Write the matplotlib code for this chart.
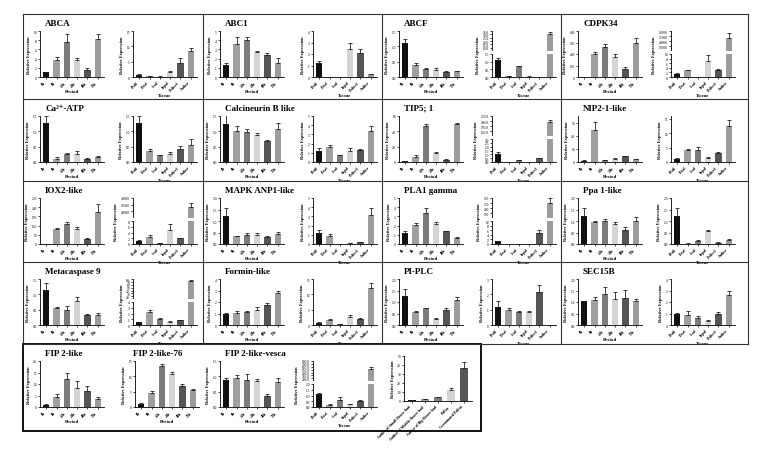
import numpy as np
import matplotlib
matplotlib.use("Agg")
import matplotlib.pyplot as plt
from matplotlib.patches import Rectangle
from matplotlib.lines import Line2D

plt.rcParams['font.family'] = ['Liberation Serif', 'DejaVu Serif']

periods = ["0h", "6h", "12h", "24h", "48h", "72h"]
tissues = ["Pistil", "Petal", "Leaf", "Sepal", "Pedicel", "Anther"]
extra_cats = ["Anther of Small flower bud", "Anther of Middle flower bud",
              "Anther of Big flower bud", "Pollen", "Germinated Pollen"]
colors = ["#111111", "#a0a0a0", "#7c7c7c", "#d4d4d4", "#555555", "#9c9c9c"]

abca_p = [1.0, 3.8, 7.6, 3.6, 1.6, 8.2];  abca_pe = [0.1, 0.6, 1.7, 0.5, 0.3, 1.1]
abca_t = [0.8, 0.2, 0.15, 1.7, 4.7, 8.6]; abca_te = [0.2, 0.1, 0.05, 0.2, 1.6, 0.9]
abc1_p = [1.3, 3.6, 4.05, 2.7, 2.4, 1.55]; abc1_pe = [0.2, 0.7, 0.3, 0.1, 0.2, 0.5]
abc1_t = [1.2, 0.0, 0.0, 2.45, 2.1, 0.25]; abc1_te = [0.2, 0, 0, 0.5, 0.35, 0.05]
abcf_p = [1.1, 0.4, 0.25, 0.22, 0.17, 0.18]; abcf_pe = [0.15, 0.05, 0.05, 0.06, 0.02, 0.02]
abcf_t = [1.1, 0.05, 0.7, 0.03, 0.02, 30]; abcf_te = [0.15, 0.02, 0.05, 0.01, 0.01, 4]
cdpk_p = [0, 200, 265, 175, 70, 300]; cdpk_pe = [0, 15, 20, 25, 15, 35]
cdpk_t = [1.5, 3.0, 0.1, 7, 3, 23000]; cdpk_te = [0.3, 0.2, 0.05, 2.5, 0.4, 5000]
ca_p = [1.28, 0.1, 0.25, 0.27, 0.1, 0.15]; ca_pe = [0.22, 0.05, 0.03, 0.08, 0.02, 0.04]
ca_t = [1.28, 0.35, 0.22, 0.25, 0.42, 0.55]; ca_te = [0.22, 0.08, 0.02, 0.06, 0.1, 0.2]
cal_p = [1.25, 1.02, 0.98, 0.88, 0.68, 1.07]; cal_pe = [0.3, 0.15, 0.1, 0.05, 0.05, 0.2]
cal_t = [1.2, 1.6, 0.75, 1.25, 1.3, 3.35]; cal_te = [0.3, 0.3, 0.05, 0.3, 0.1, 0.6]
tip_p = [1, 7, 47, 12, 3, 50]; tip_pe = [0.3, 2, 2.5, 0.5, 0.4, 1.5]
tip_t = [1.0, 0.05, 0.25, 0.02, 0.55, 190]; tip_te = [0.35, 0.01, 0.03, 0.01, 0.03, 25]
nip_p = [1, 24, 1.3, 2.5, 4.5, 2]; nip_pe = [0.3, 6.5, 0.3, 0.6, 0.4, 0.3]
nip_t = [1.1, 4.2, 4.3, 1.4, 3.1, 12.5]; nip_te = [0.3, 0.4, 0.8, 0.3, 0.5, 2]
iox_p = [0, 80, 107, 80, 27, 175]; iox_pe = [0, 6, 10, 10, 3, 40]
iox_t = [1.2, 2.5, 0.2, 5, 2, 27000]; iox_te = [0.3, 0.5, 0.05, 2, 0.2, 6000]
mapk_p = [1.22, 0.33, 0.38, 0.4, 0.3, 0.43]; mapk_pe = [0.35, 0.03, 0.08, 0.07, 0.03, 0.08]
mapk_t = [1.2, 0.85, 0.02, 0.1, 0.2, 3.2]; mapk_te = [0.3, 0.25, 0.01, 0.03, 0.05, 0.75]
pla_p = [1.2, 2.1, 3.35, 2.15, 1.4, 0.7]; pla_pe = [0.2, 0.15, 0.6, 0.25, 0.05, 0.03]
pla_t = [1.2, 0.05, 0.02, 0.03, 5, 250]; pla_te = [0.3, 0.02, 0.01, 0.01, 1, 50]
ppa_p = [1.2, 0.95, 1.0, 0.88, 0.62, 1.0]; ppa_pe = [0.35, 0.05, 0.1, 0.07, 0.12, 0.17]
ppa_t = [1.2, 0.02, 0.15, 0.57, 0.05, 0.17]; ppa_te = [0.35, 0.01, 0.02, 0.04, 0.02, 0.03]
meta_p = [1.15, 0.55, 0.48, 0.77, 0.32, 0.32]; meta_pe = [0.22, 0.04, 0.14, 0.15, 0.03, 0.07]
meta_t = [0.5, 2.2, 1.1, 0.6, 0.8, 72]; meta_te = [0.1, 0.4, 0.1, 0.05, 0.05, 3]
form_p = [1.0, 1.05, 1.1, 1.3, 1.7, 2.75]; form_pe = [0.05, 0.15, 0.1, 0.3, 0.2, 0.2]
form_t = [0.8, 1.6, 0.3, 2.5, 1.9, 12.2]; form_te = [0.1, 0.3, 0.1, 0.9, 0.4, 1.5]
pip_p = [1.25, 0.55, 0.73, 0.27, 0.65, 1.1]; pip_pe = [0.3, 0.07, 0.02, 0.02, 0.07, 0.13]
pip_t = [1.2, 0.95, 0.83, 0.87, 2.15, 0.0]; pip_te = [0.35, 0.15, 0.07, 0.07, 0.45, 0]
sec_p = [1.03, 1.1, 1.35, 1.15, 1.17, 1.05]; sec_pe = [0.02, 0.13, 0.3, 0.3, 0.35, 0.1]
sec_t = [1.0, 0.9, 0.65, 0.35, 1.0, 2.65]; sec_te = [0.05, 0.35, 0.15, 0.1, 0.15, 0.35]
fip_p = [1, 4.5, 12.3, 8.2, 7, 3.5]; fip_pe = [0.3, 1.2, 2.5, 3, 2, 0.7]
fip76_p = [1, 4.6, 13.5, 10.8, 6.8, 5.6]; fip76_pe = [0.2, 0.7, 0.4, 0.5, 0.6, 0.2]
vesca_p = [0.88, 0.95, 0.88, 0.85, 0.35, 0.8]; vesca_pe = [0.08, 0.08, 0.18, 0.06, 0.06, 0.14]
vesca_t = [1.1, 0.2, 0.65, 0.25, 0.5, 520]; vesca_te = [0.15, 0.03, 0.2, 0.03, 0.1, 80]
extra_v = [0.8, 1.8, 4.0, 12, 37]; extra_e = [0.3, 0.5, 0.5, 2.5, 6.5]

W, H = 764, 460
fig = plt.figure(figsize=(W / 100, H / 100), dpi=100)


def frac(x, y, w, h):
    return [x / W, 1 - (y + h) / H, w / W, h / H]


def bar_panel(x, y, vals, errs, cats, top, ticks, xlabel, brk=None, w=64, h=46):
    ax = fig.add_axes(frac(x, y, w, h))
    xs = np.arange(len(vals))
    if brk is not None:
        a, b, c, lt, ut = brk
        f = lambda v: np.interp(v, [0, a, b, c], [0, 0.5, 0.56, 1.0])
        g = lambda v: np.interp(v, [0, 0.5, 0.56, 1.0], [0, a, b, c])
        ax.set_yscale('function', functions=(f, g))
        ax.set_ylim(0, c)
        ax.set_yticks(list(lt) + list(ut))
    else:
        ax.set_ylim(0, top)
        ax.set_yticks(ticks)
    ax.bar(xs, vals, width=0.62, color=colors[:len(vals)], zorder=2)
    ax.errorbar(xs, vals, yerr=[np.zeros(len(vals)), errs], fmt='none',
                ecolor='#222222', elinewidth=0.6, capsize=1.5, capthick=0.6, zorder=3)
    if brk is not None:
        ax.axhspan(a * 1.02, b, color='white', zorder=4, lw=0)
    ax.set_xlim(-0.6, len(vals) - 0.4)
    ax.set_xticks(xs)
    ax.set_xticklabels(cats, rotation=45, ha='right', fontsize=2.8, fontweight='bold')
    ax.tick_params(axis='y', labelsize=2.6, length=1.2, width=0.5, pad=1)
    ax.tick_params(axis='x', length=1.2, width=0.5, pad=1)
    for s in ['top', 'right']:
        ax.spines[s].set_visible(False)
    for s in ['left', 'bottom']:
        ax.spines[s].set_linewidth(0.6)
    ax.set_ylabel("Relative Expression", fontsize=3.2, fontweight='bold', labelpad=2)
    if xlabel:
        ax.set_xlabel(xlabel, fontsize=3.6, fontweight='bold', labelpad=1)
    return ax


col_x = [23, 203, 382, 561]
row_y = [15, 100, 182, 263, 345]

groups = [
    ("ABCA", 0, 0, abca_p, abca_pe, 10, [0, 2, 4, 6, 8, 10], abca_t, abca_te, 15, [0, 5, 10, 15], None),
    ("ABC1", 1, 0, abc1_p, abc1_pe, 5, range(6), abc1_t, abc1_te, 4, range(5), None),
    ("ABCF", 2, 0, abcf_p, abcf_pe, 1.5, [0, 0.5, 1.0, 1.5], abcf_t, abcf_te, 0, [],
     (1.5, 5, 35, [0, 0.5, 1.0, 1.5], [10, 15, 20, 25, 30, 35])),
    ("CDPK34", 3, 0, cdpk_p, cdpk_pe, 400, [0, 100, 200, 300, 400], cdpk_t, cdpk_te, 0, [],
     (10, 10000, 30000, [0, 2, 4, 6, 8, 10], [15000, 20000, 25000, 30000])),
    ("Ca²⁺-ATP", 0, 1, ca_p, ca_pe, 1.5, [0, 0.5, 1.0, 1.5], ca_t, ca_te, 1.5, [0, 0.5, 1.0, 1.5], None),
    ("Calcineurin B like", 1, 1, cal_p, cal_pe, 1.5, [0, 0.5, 1.0, 1.5], cal_t, cal_te, 5, range(6), None),
    ("TIP5; 1", 2, 1, tip_p, tip_pe, 60, [0, 20, 40, 60], tip_t, tip_te, 0, [],
     (3, 50, 250, [0, 0.5, 1.0, 1.5, 2.0, 2.5, 3.0], [100, 150, 200, 250])),
    ("NIP2-1-like", 3, 1, nip_p, nip_pe, 35, [0, 10, 20, 30], nip_t, nip_te, 16, [0, 5, 10, 15], None),
    ("IOX2-like", 0, 2, iox_p, iox_pe, 250, [0, 50, 100, 150, 200, 250], iox_t, iox_te, 0, [],
     (8, 10000, 40000, [0, 2, 4, 6, 8], [20000, 30000, 40000])),
    ("MAPK ANP1-like", 1, 2, mapk_p, mapk_pe, 2.0, [0, 0.5, 1.0, 1.5, 2.0], mapk_t, mapk_te, 5, range(6), None),
    ("PLA1 gamma", 2, 2, pla_p, pla_pe, 5, range(6), pla_t, pla_te, 0, [],
     (10, 100, 300, [0, 2, 4, 6, 8, 10], [150, 200, 250, 300])),
    ("Ppa 1-like", 3, 2, ppa_p, ppa_pe, 2.0, [0, 0.5, 1.0, 1.5, 2.0], ppa_t, ppa_te, 2.0, [0, 0.5, 1.0, 1.5, 2.0], None),
    ("Metacaspase 9", 0, 3, meta_p, meta_pe, 1.5, [0, 0.5, 1.0, 1.5], meta_t, meta_te, 0, [],
     (4, 10, 80, [0, 1, 2, 3, 4], [20, 30, 40, 50, 60, 70, 80])),
    ("Formin-like", 1, 3, form_p, form_pe, 4, range(5), form_t, form_te, 15, [0, 5, 10, 15], None),
    ("PI-PLC", 2, 3, pip_p, pip_pe, 2.0, [0, 0.5, 1.0, 1.5, 2.0], pip_t, pip_te, 3, range(4), None),
    ("SEC15B", 3, 3, sec_p, sec_pe, 2.0, [0, 0.5, 1.0, 1.5, 2.0], sec_t, sec_te, 4, range(5), None),
    ("FIP 2-like-vesca", 1, 4, vesca_p, vesca_pe, 1.5, [0, 0.5, 1.0, 1.5], vesca_t, vesca_te, 0, [],
     (2, 100, 800, [0, 0.5, 1.0, 1.5, 2.0], [200, 300, 400, 500, 600, 700, 800])),
]

for (name, c, r, pv, pe, ptop, pticks, tv, te, ttop, tticks, brk) in groups:
    x0, y0 = col_x[c], row_y[r]
    bar_panel(x0 + 17, y0 + 17, pv, pe, periods, ptop, pticks, "Period")
    bar_panel(x0 + 110, y0 + 17, tv, te, tissues, ttop, tticks, "Tissue", brk=brk)
    fig.text((x0 + 22) / W, 1 - (y0 + 9) / H, name, fontsize=6.5, fontweight='bold', va='center')

x0, y0 = col_x[0], row_y[4]
bar_panel(x0 + 17, y0 + 17, fip_p, fip_pe, periods, 20, [0, 5, 10, 15, 20], "Period")
fig.text((x0 + 22) / W, 1 - (y0 + 9) / H, "FIP 2-like", fontsize=6.5, fontweight='bold', va='center')
bar_panel(x0 + 112, y0 + 17, fip76_p, fip76_pe, periods, 15, [0, 5, 10, 15], "Period")
fig.text((x0 + 110) / W, 1 - (y0 + 9) / H, "FIP 2-like-76", fontsize=6.5, fontweight='bold', va='center')
bar_panel(404, 357, extra_v, extra_e, extra_cats, 50, [0, 10, 20, 30, 40, 50], None, w=68, h=45)


def line(x1, y1, x2, y2, lw=0.8):
    fig.add_artist(Line2D([x1 / W, x2 / W], [1 - y1 / H, 1 - y2 / H], color='#333333', lw=lw))


top, bottom, left, right = 15, 345, 23, 748
for yy in [top, 100, 182, 263, bottom]:
    line(left, yy, right, yy)
line(left, top, left, bottom)
line(right, top, right, bottom)
for xx in col_x[1:]:
    line(xx, top, xx, bottom)
fig.add_artist(Rectangle((left / W, 1 - 432 / H), (481 - left) / W, (432 - 345) / H,
                         fill=False, ec='#111111', lw=1.4, transform=fig.transFigure))

fig.savefig("out.png", dpi=100)
